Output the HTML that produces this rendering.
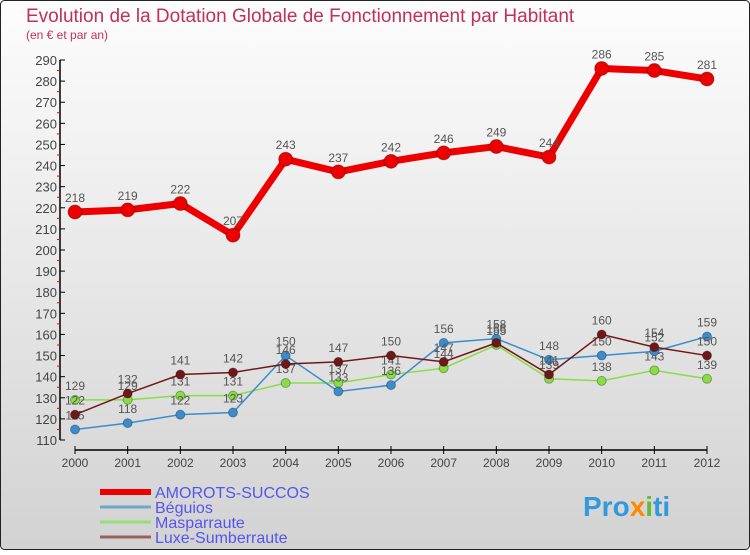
<!DOCTYPE html>
<html><head><meta charset="utf-8"><style>
body{margin:0;width:750px;height:550px;overflow:hidden;font-family:"Liberation Sans",sans-serif}
</style></head><body>
<svg width="750" height="550" xmlns="http://www.w3.org/2000/svg">
<defs><linearGradient id="bg" x1="0" y1="0" x2="0" y2="1"><stop offset="0" stop-color="#fdfdfd"/><stop offset="1" stop-color="#d2d2d2"/></linearGradient></defs>
<rect x="0.5" y="0.5" width="749" height="549" rx="4" fill="url(#bg)" stroke="#222"/>
<text x="26" y="22" font-size="19" fill="#c0305a">Evolution de la Dotation Globale de Fonctionnement par Habitant</text>
<text x="26" y="39" font-size="12" fill="#c0305a">(en € et par an)</text>
<g id="axes"></g><g id="series"></g><g id="legend"></g>
<text x="583" y="516" font-size="28" font-weight="bold" fill="#3399dd">Pro<tspan fill="#ff8800">x</tspan><tspan fill="#66bb33">i</tspan>ti</text>
</svg>
<script>
const years=[2000,2001,2002,2003,2004,2005,2006,2007,2008,2009,2010,2011,2012];
const yTicks=[110,120,130,140,150,160,170,180,190,200,210,220,230,240,250,260,270,280,290];
const amorots=[218,219,222,207,243,237,242,246,249,244,286,285,281];
const beguios=[115,118,122,123,150,133,136,156,158,148,150,152,159];
const masparraute=[129,129,131,131,137,137,141,144,155,139,138,143,139];
const luxe=[122,132,141,142,146,147,150,147,156,141,160,154,150];
const NS="http://www.w3.org/2000/svg";
const X=i=>75+i*(707-75)/(years.length-1);
const Y=v=>440-(v-110)*(380/180);
function mk(t,a,p){const e=document.createElementNS(NS,t);for(const k in a)e.setAttribute(k,a[k]);p.appendChild(e);return e;}
const ax=document.getElementById('axes');
let l=mk('line',{x1:60,y1:Y(290),x2:60,y2:440,stroke:'#000','stroke-width':1.5},ax);


yTicks.forEach(v=>{
  mk('line',{x1:60,y1:Y(v),x2:65,y2:Y(v),stroke:'#000'},ax);
  if(v<290)mk('line',{x1:57,y1:Y(v+5),x2:60,y2:Y(v+5),stroke:'#e00'},ax);
  const t=mk('text',{x:57,y:Y(v)+5,'font-size':13,fill:'#444','text-anchor':'end'},ax);t.textContent=v;
  
  
});
l=mk('line',{x1:75,y1:450,x2:707,y2:450,stroke:'#000','stroke-width':1.5},ax);


years.forEach((y,i)=>{
  mk('line',{x1:X(i),y1:446,x2:X(i),y2:454,stroke:'#000'},ax);
  const t=mk('text',{x:X(i),y:467,'font-size':12,fill:'#444','text-anchor':'middle'},ax);t.textContent=y;
  
  
});
const sg=document.getElementById('series');
function series(vals,color,w,r,name){
  const g=mk('g',{},sg);
  
  
  mk('polyline',{points:vals.map((v,i)=>X(i)+','+Y(v)).join(' '),fill:'none',stroke:color,'stroke-width':w},g);
  vals.forEach((v,i)=>{
    const c=mk('circle',{cx:X(i),cy:Y(v),r:r,fill:color,stroke:'rgba(0,0,0,0.3)'},g);
    
    
    const t=mk('text',{x:X(i),y:Y(v)-10,'font-size':12,fill:'#555','text-anchor':'middle'},g);t.textContent=v;
    
    
  });
}
series(masparraute,'#88dd44',1.5,4.5,'masparraute');
series(beguios,'#3a8ccc',1.5,4.5,'beguios');
series(luxe,'#701818',1.5,4.5,'luxe-sumberraute');
series(amorots,'#ee0000',7,7,'amorots-succos');
const lg=document.getElementById('legend');
[['AMOROTS-SUCCOS','#ee0000',6,492],['Béguios','#6fa6cc',3,507],['Masparraute','#99dd77',3,522],['Luxe-Sumberraute','#9a6060',3,537]].forEach(([n,c,w,y])=>{
  const g=mk('g',{},lg);
  
  
  mk('line',{x1:100,y1:y,x2:151,y2:y,stroke:c,'stroke-width':w},g);
  const t=mk('text',{x:155,y:y+6,'font-size':16,fill:'#5555ee'},g);t.textContent=n;
});
</script>
</body></html>
